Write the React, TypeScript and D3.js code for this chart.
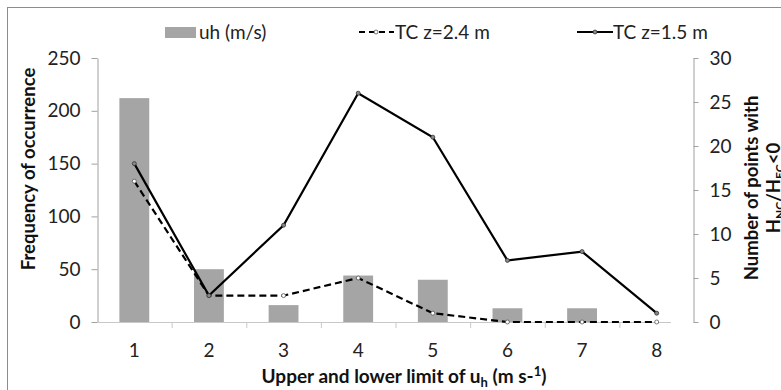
import React, { useRef, useEffect } from 'react';
import * as d3 from 'd3';

const CATEGORIES = ["1", "2", "3", "4", "5", "6", "7", "8"];
const UH_FREQ = [212, 50, 16, 44, 40, 13, 13, 0];
const TC_24 = [16, 3, 3, 5, 1, 0, 0, 0];
const TC_15 = [18, 3, 11, 26, 21, 7, 8, 1];
const LEFT_TICKS = [0, 50, 100, 150, 200, 250];
const RIGHT_TICKS = [0, 5, 10, 15, 20, 25, 30];

const W = 781;
const H = 390;
const FONT = "Lato, 'Open Sans', sans-serif";

function App() {
    const svgRef = useRef<SVGSVGElement>(null);

    useEffect(() => {
        const svg = d3.select(svgRef.current);
        svg.selectAll("*").remove();

        const plotLeft = 97, plotRight = 694, plotTop = 58, plotBottom = 322;

        // outer frame
        svg.append("rect")
            .attr("x", 7.5).attr("y", 7.5)
            .attr("width", 800).attr("height", 400)
            .attr("fill", "white").attr("stroke", "#8c8c8c");

        const x = d3.scaleBand().domain(CATEGORIES).range([plotLeft, plotRight]);
        const yL = d3.scaleLinear().domain([0, 250]).range([plotBottom, plotTop]);
        const yR = d3.scaleLinear().domain([0, 30]).range([plotBottom, plotTop]);

        // bars
        svg.append("g").selectAll("rect")
            .data(UH_FREQ)
            .enter()
            .append("rect")
            .attr("x", (d, i) => x(CATEGORIES[i])! + x.bandwidth() * 0.3)
            .attr("width", x.bandwidth() * 0.4)
            .attr("y", d => yL(d))
            .attr("height", d => plotBottom - yL(d))
            .attr("fill", "#a5a5a5");

        // left axis
        const gL = svg.append("g").attr("transform", `translate(${plotLeft + 0.5},0)`)
            .call(d3.axisLeft(yL).tickValues(LEFT_TICKS).tickSize(6).tickSizeOuter(0).tickPadding(11));
        gL.select(".domain").attr("stroke", "#a0a0a0");
        gL.selectAll(".tick line").attr("stroke", "#a0a0a0");
        gL.selectAll(".tick text").attr("font-family", FONT).attr("font-size", 19).attr("fill", "#222");

        // right axis
        const gR = svg.append("g").attr("transform", `translate(${693.5},0)`)
            .call(d3.axisRight(yR).tickValues(RIGHT_TICKS).tickSize(5).tickSizeOuter(0).tickPadding(11));
        gR.select(".domain").attr("stroke", "#a0a0a0");
        gR.selectAll(".tick line").attr("stroke", "#a0a0a0");
        gR.selectAll(".tick text").attr("font-family", FONT).attr("font-size", 19).attr("fill", "#222");

        // x axis
        svg.append("line")
            .attr("x1", plotLeft).attr("x2", 671)
            .attr("y1", plotBottom + 0.5).attr("y2", plotBottom + 0.5)
            .attr("stroke", "#c8c8c8");
        svg.append("g").selectAll("line")
            .data(CATEGORIES.slice(1, 8))
            .enter()
            .append("line")
            .attr("x1", d => x(d)! + 0.5).attr("x2", d => x(d)! + 0.5)
            .attr("y1", plotBottom).attr("y2", plotBottom + 6)
            .attr("stroke", "#c8c8c8");
        svg.append("g").selectAll("text")
            .data(CATEGORIES)
            .enter()
            .append("text")
            .attr("x", d => x(d)! + x.bandwidth() / 2)
            .attr("y", 357)
            .attr("text-anchor", "middle")
            .attr("font-family", FONT).attr("font-size", 19).attr("fill", "#222")
            .text(d => d);

        // lines
        const cx = (i: number) => x(CATEGORIES[i])! + x.bandwidth() / 2;
        const line = d3.line<number>().x((d, i) => cx(i)).y(d => yR(d));

        svg.append("path").datum(TC_24)
            .attr("d", line).attr("fill", "none")
            .attr("stroke", "#000").attr("stroke-width", 2.2)
            .attr("stroke-dasharray", "7,4");
        svg.append("g").selectAll("circle")
            .data(TC_24).enter().append("circle")
            .attr("cx", (d, i) => cx(i)).attr("cy", d => yR(d)).attr("r", 2)
            .attr("fill", "white").attr("stroke", "#555").attr("stroke-width", 0.8);

        svg.append("path").datum(TC_15)
            .attr("d", line).attr("fill", "none")
            .attr("stroke", "#000").attr("stroke-width", 2.2);
        svg.append("g").selectAll("circle")
            .data(TC_15).enter().append("circle")
            .attr("cx", (d, i) => cx(i)).attr("cy", d => yR(d)).attr("r", 2)
            .attr("fill", "#888").attr("stroke", "#333").attr("stroke-width", 0.8);

        // legend
        const leg = svg.append("g").attr("font-family", FONT).attr("font-size", 19).attr("fill", "#222");
        leg.append("rect").attr("x", 165).attr("y", 27).attr("width", 31).attr("height", 11).attr("fill", "#a5a5a5");
        leg.append("text").attr("x", 199).attr("y", 39).text("uh (m/s)");
        leg.append("line").attr("x1", 359).attr("x2", 394).attr("y1", 32).attr("y2", 32)
            .attr("stroke", "#000").attr("stroke-width", 2.2).attr("stroke-dasharray", "6,4");
        leg.append("circle").attr("cx", 376).attr("cy", 32).attr("r", 2)
            .attr("fill", "white").attr("stroke", "#555").attr("stroke-width", 0.8);
        leg.append("text").attr("x", 395).attr("y", 39).text("TC z=2.4 m");
        leg.append("line").attr("x1", 577).attr("x2", 613).attr("y1", 32).attr("y2", 32)
            .attr("stroke", "#000").attr("stroke-width", 2.2);
        leg.append("circle").attr("cx", 595).attr("cy", 32).attr("r", 2)
            .attr("fill", "#888").attr("stroke", "#333").attr("stroke-width", 0.8);
        leg.append("text").attr("x", 613).attr("y", 39).text("TC z=1.5 m");

        // axis titles
        svg.append("text")
            .attr("transform", `translate(35,169) rotate(-90)`)
            .attr("text-anchor", "middle")
            .attr("font-family", FONT).attr("font-size", 18.5).attr("font-weight", "bold").attr("fill", "#111")
            .text("Frequency of occurrence");

        const xt = svg.append("text")
            .attr("x", 404).attr("y", 383)
            .attr("text-anchor", "middle")
            .attr("font-family", FONT).attr("font-size", 19).attr("font-weight", "bold").attr("fill", "#111");
        xt.append("tspan").text("Upper and lower limit of u");
        xt.append("tspan").attr("dy", 4).attr("font-size", 13).text("h");
        xt.append("tspan").attr("dy", -4).text(" (m s-");
        xt.append("tspan").attr("dy", -7).attr("font-size", 13).text("1");
        xt.append("tspan").attr("dy", 7).text(")");

        const rt = svg.append("g").attr("transform", `translate(758,188) rotate(-90)`)
            .attr("font-family", FONT).attr("font-size", 18.5).attr("font-weight", "bold").attr("fill", "#111");
        rt.append("text").attr("text-anchor", "middle").attr("y", 0).text("Number of points with");
        const r2 = rt.append("text").attr("text-anchor", "middle").attr("y", 22);
        r2.append("tspan").text("H");
        r2.append("tspan").attr("dy", 4).attr("font-size", 12).text("NC");
        r2.append("tspan").attr("dy", -4).text("/H");
        r2.append("tspan").attr("dy", 4).attr("font-size", 12).text("EC");
        r2.append("tspan").attr("dy", -4).text("<0");
    }, []);

    return (
        <svg
            ref={svgRef}
            width={W}
            height={H}
            style={{ position: "absolute", left: 0, top: 0, background: "white" }}
        />
    );
}

export default App;
